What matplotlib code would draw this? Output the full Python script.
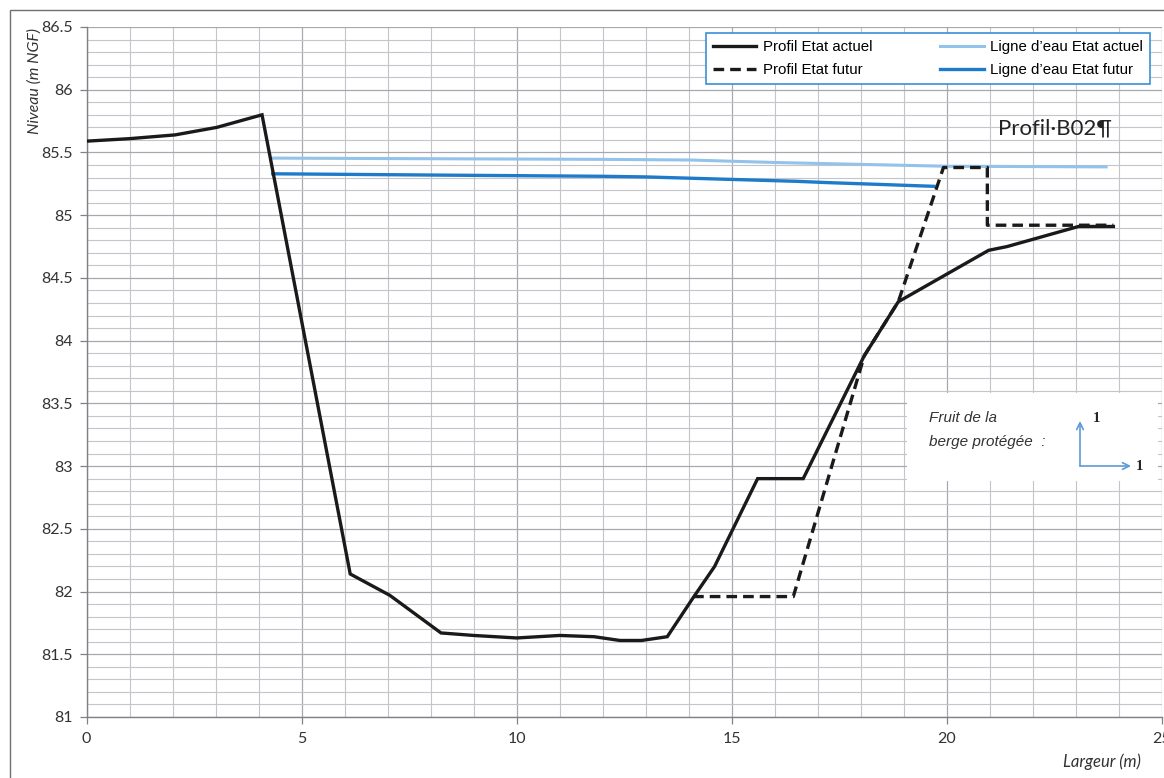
import matplotlib
matplotlib.use("Agg")
import matplotlib.pyplot as plt
from matplotlib.ticker import MultipleLocator
from matplotlib.patches import Rectangle, FancyArrowPatch

# Cross-section profile B02
profil_actuel_x = [0, 1, 2.06, 3.03, 4.08, 6.13, 7.05, 8.24, 9.0, 10.0, 11.0, 11.8,
                   12.4, 12.9, 13.5, 14.1, 14.6, 15.6, 16.66, 18.08, 18.87, 20.97,
                   21.4, 23.06, 23.87]
profil_actuel_y = [85.59, 85.61, 85.64, 85.70, 85.80, 82.14, 81.97, 81.67, 81.65, 81.63,
                   81.65, 81.64, 81.61, 81.61, 81.64, 81.95, 82.2, 82.9, 82.9, 83.88,
                   84.31, 84.72, 84.75, 84.91, 84.91]

profil_futur_x = [14.1, 16.43, 18.08, 18.87, 19.92, 20.94, 20.94, 23.87]
profil_futur_y = [81.96, 81.96, 83.88, 84.31, 85.38, 85.38, 84.92, 84.92]

eau_actuel_x = [4.33, 8.0, 12.0, 14.0, 16.0, 18.0, 20.0, 23.7]
eau_actuel_y = [85.455, 85.45, 85.445, 85.44, 85.42, 85.405, 85.39, 85.385]

eau_futur_x = [4.33, 8.0, 12.0, 13.0, 14.0, 15.5, 16.5, 17.2, 19.7]
eau_futur_y = [85.33, 85.32, 85.31, 85.305, 85.295, 85.28, 85.27, 85.26, 85.23]

x_ticks = [0, 5, 10, 15, 20, 25]
y_ticks = [81, 81.5, 82, 82.5, 83, 83.5, 84, 84.5, 85, 85.5, 86, 86.5]
y_tick_labels = ["81", "81.5", "82", "82.5", "83", "83.5", "84", "84.5", "85", "85.5", "86", "86.5"]

W, H = 1164, 778
fig = plt.figure(figsize=(W / 100, H / 100), dpi=100)
fig.patch.set_facecolor("white")


def fx(px):
    return px / W


def fy(py):
    return 1 - py / H


ax = fig.add_axes([fx(86.5), fy(717), fx(1162) - fx(86.5), fy(27) - fy(717)])
ax.set_xlim(0, 25)
ax.set_ylim(81, 86.5)

ax.xaxis.set_major_locator(MultipleLocator(5))
ax.xaxis.set_minor_locator(MultipleLocator(1))
ax.yaxis.set_minor_locator(MultipleLocator(0.1))
ax.set_xticks(x_ticks)
ax.set_xticklabels([str(t) for t in x_ticks])
ax.set_yticks(y_ticks)
ax.set_yticklabels(y_tick_labels)

ax.grid(True, which="major", color="#a8a8b0", lw=0.9)
ax.grid(True, which="minor", color="#c4c4cb", lw=0.8)
ax.set_axisbelow(True)

for s in ["top", "right"]:
    ax.spines[s].set_visible(False)
for s in ["left", "bottom"]:
    ax.spines[s].set_color("#808088")
    ax.spines[s].set_linewidth(1.0)

ax.tick_params(which="major", length=5, width=0.9, color="#808088", pad=6,
               labelsize=11.5, labelcolor="#333333")
ax.tick_params(axis="y", pad=5)
ax.tick_params(which="minor", length=0)
for lab in ax.get_xticklabels() + ax.get_yticklabels():
    lab.set_fontfamily("Lato")

ax.plot(profil_actuel_x, profil_actuel_y, color="#1a1a1a", lw=2.4,
        solid_joinstyle="miter", label="Profil Etat actuel", zorder=4)
ax.plot(profil_futur_x, profil_futur_y, color="#1a1a1a", lw=2.4, ls=(0, (3.2, 1.8)),
        label="Profil Etat futur", zorder=5)
ax.plot(eau_actuel_x, eau_actuel_y, color="#93c2ea", lw=2.2,
        label="Ligne d'eau Etat actuel", zorder=3)
ax.plot(eau_futur_x, eau_futur_y, color="#1f7bc9", lw=2.4,
        label="Ligne d'eau Etat futur", zorder=3)

handles, labels = ax.get_legend_handles_labels()
leg = ax.legend(handles,
                ["Profil Etat actuel", "Profil Etat futur",
                 "Ligne d\u2019eau Etat actuel", "Ligne d\u2019eau Etat futur"],
                ncol=2, loc="upper left",
                bbox_to_anchor=(fx(706), fy(86), fx(1150) - fx(706), fy(33) - fy(86)),
                bbox_transform=fig.transFigure, mode="expand",
                prop={"family": "Liberation Sans", "size": 10.8},
                handlelength=2.9, handletextpad=0.45, labelspacing=0.6,
                borderpad=0.45, borderaxespad=0, fancybox=False, framealpha=1,
                columnspacing=1.0)
leg.get_frame().set_edgecolor("#3b8fd9")
leg.get_frame().set_linewidth(1.2)

# label of the profile
fig.text(fx(998), fy(129), "Profil\u00b7B02\u00b6", fontsize=16, family="Lato",
         color="#222222", ha="left", va="center")

# bank slope annotation
fig.add_artist(Rectangle((fx(907), fy(481)), fx(1158) - fx(907), fy(393) - fy(481),
                         transform=fig.transFigure, facecolor="white",
                         edgecolor="none", zorder=6))
fig.text(fx(929), fy(418), "Fruit de la", fontsize=11, family="Liberation Sans",
         style="italic", color="#333333", ha="left", va="center", zorder=7)
fig.text(fx(929), fy(442), "berge prot\u00e9g\u00e9e  :", fontsize=11,
         family="Liberation Sans", style="italic", color="#333333",
         ha="left", va="center", zorder=7)
arrow_kw = dict(transform=fig.transFigure, arrowstyle="->", mutation_scale=12,
                color="#5b9bd5", lw=1.2, zorder=7, shrinkA=0, shrinkB=0)
fig.add_artist(FancyArrowPatch((fx(1080), fy(466)), (fx(1080), fy(421)), **arrow_kw))
fig.add_artist(FancyArrowPatch((fx(1080), fy(466)), (fx(1131), fy(466)), **arrow_kw))
fig.text(fx(1096), fy(418), "1", fontsize=10.5, family="Liberation Serif",
         weight="bold", color="#222222", ha="center", va="center", zorder=7)
fig.text(fx(1139), fy(466), "1", fontsize=10.5, family="Liberation Serif",
         weight="bold", color="#222222", ha="center", va="center", zorder=7)

# axis titles
fig.text(fx(35), fy(28), "Niveau (m NGF)", rotation=90, fontsize=11.5, family="Lato",
         style="italic", color="#333333", ha="center", va="top")
fig.text(fx(1141), fy(762), "Largeur (m)", fontsize=12, family="Lato",
         style="italic", color="#333333", ha="right", va="center")

# chart area border
fig.add_artist(Rectangle((fx(10), fy(H + 5)), fx(W + 10) - fx(10), fy(10) - fy(H + 5),
                         transform=fig.transFigure, facecolor="none",
                         edgecolor="#707070", lw=1.0, zorder=0))

fig.savefig("out.png", dpi=100, facecolor="white")
